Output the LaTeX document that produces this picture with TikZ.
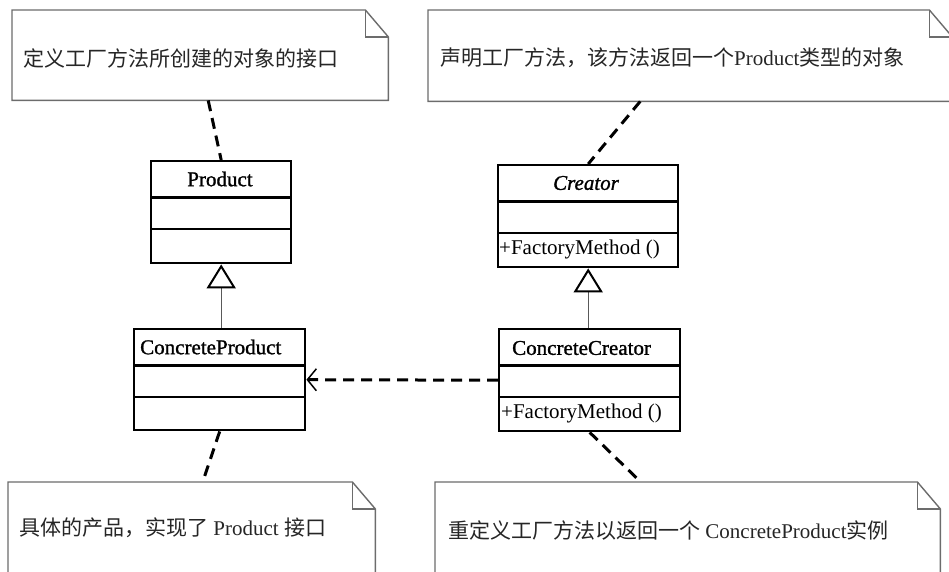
\documentclass[tikz,border=0pt]{standalone}
\usepackage{fontspec}
\setmainfont{Liberation Serif}
\newfontfamily\cjk{Noto Sans CJK SC}
\newfontfamily\jmeno[FakeBold=1.2]{Liberation Serif}
\usetikzlibrary{arrows.meta}

\begin{document}
\begin{tikzpicture}[x=1pt,y=-1pt,
  trida/.style={draw,line width=2.4pt,inner sep=0pt,anchor=north west},
  pozn/.style={inner sep=0pt,anchor=north west},
  okraj/.style={draw=gray!85!black,line width=1.4pt},
  carka/.style={line width=3pt,dash pattern=on 11pt off 7pt},
  popis/.style={inner sep=0pt,anchor=west,font=\fontsize{21}{25}\selectfont}]
  \useasboundingbox (0,0) rectangle (949,571);
  \clip (0,0) rectangle (949,571);
  % velikost ohnuteho rohu poznamky
  \def\ohybx{23pt}\def\ohyby{27pt}
  % poznamky (jen ramecky, text zvlast)
  \node[pozn,minimum width=376pt,minimum height=90pt]  (n1) at (12,10) {};
  \node[pozn,minimum width=524pt,minimum height=91pt]  (n2) at (428,10) {};
  \node[pozn,minimum width=367pt,minimum height=130pt] (n3) at (8,482) {};
  \node[pozn,minimum width=505pt,minimum height=130pt] (n4) at (435,482) {};
  \foreach \n in {n1,n2,n3,n4}{
    \draw[okraj,fill=white] (\n.north west) -- ([xshift=-\ohybx]\n.north east)
      -- ([yshift=-\ohyby]\n.north east) -- (\n.south east) -- (\n.south west) -- cycle;
    \draw[okraj] ([xshift=-\ohybx]\n.north east) |- ([yshift=-\ohyby]\n.north east);
  }
  % texty poznamek
  \node[popis,text=black!85] (t1) at (23,58) {\cjk 定义工厂方法所创建的对象的接口};
  \node[popis,text=black!85] (t2) at (440,58) {{\cjk 声明工厂方法，该方法返回一个}Product{\cjk 类型的对象}};
  \node[popis,text=black!85] (t3) at (19,528) {{\cjk 具体的产品，实现了} Product {\cjk 接口}};
  \node[popis,text=black!85] (t4) at (448,530) {{\cjk 重定义工厂方法以返回一个} ConcreteProduct{\cjk 实例}};
  % tridy
  \node[trida,minimum width=140pt,minimum height=102pt] (prod) at (150,160) {};
  \node[trida,minimum width=171pt,minimum height=101pt] (cp)   at (133,328) {};
  \node[trida,minimum width=180pt,minimum height=102pt] (cre)  at (497,164) {};
  \node[trida,minimum width=181pt,minimum height=102pt] (cc)   at (498,328) {};
  % oddelovace jmeno / atributy / metody
  \foreach \b in {prod,cp,cre,cc}{
    \draw[line width=2.4pt] ([yshift=-37.5pt]\b.north west) -- ([yshift=-37.5pt]\b.north east);
    \draw[line width=2.4pt] ([yshift=-69pt]\b.north west) -- ([yshift=-69pt]\b.north east);
  }
  \node[popis,anchor=center] (prodjm) at (220,179) {\jmeno Product};
  \node[popis] (cpjm) at (140,347) {\jmeno ConcreteProduct};
  \node[popis,anchor=center] (crejm) at (586,183) {\jmeno\itshape Creator};
  \node[popis] (crem) at (499,249) {+FactoryMethod ()};
  \node[popis] (ccjm) at (512,348) {\jmeno ConcreteCreator};
  \node[popis] (ccm)  at (501,413) {+FactoryMethod ()};
  % dedicnost
  \draw[gray!70!black,line width=1.3pt,-{Triangle[open,length=24pt,width=29pt,line width=2pt,color=black]}]
    (cp.north -| prod.south) -- (prod.south);
  \draw[gray!70!black,line width=1.3pt,-{Triangle[open,length=24pt,width=29pt,line width=2pt,color=black]}]
    (cc.north -| cre.south) -- (cre.south);
  % zavislost
  \draw[carka,-{Straight Barb[length=9pt,width=22pt,line width=1.5pt]}] (cc.west) -- (cp.east);
  % spojnice k poznamkam
  \draw[carka] ([xshift=8pt]n1.south) -- (prod.north);
  \draw[carka] ([xshift=-50pt]n2.south) -- (cre.north);
  \draw[carka] (cp.south) -- ([xshift=11pt]n3.north);
  \draw[carka] (cc.south) -- ([xshift=-47pt]n4.north);
\end{tikzpicture}
\end{document}
